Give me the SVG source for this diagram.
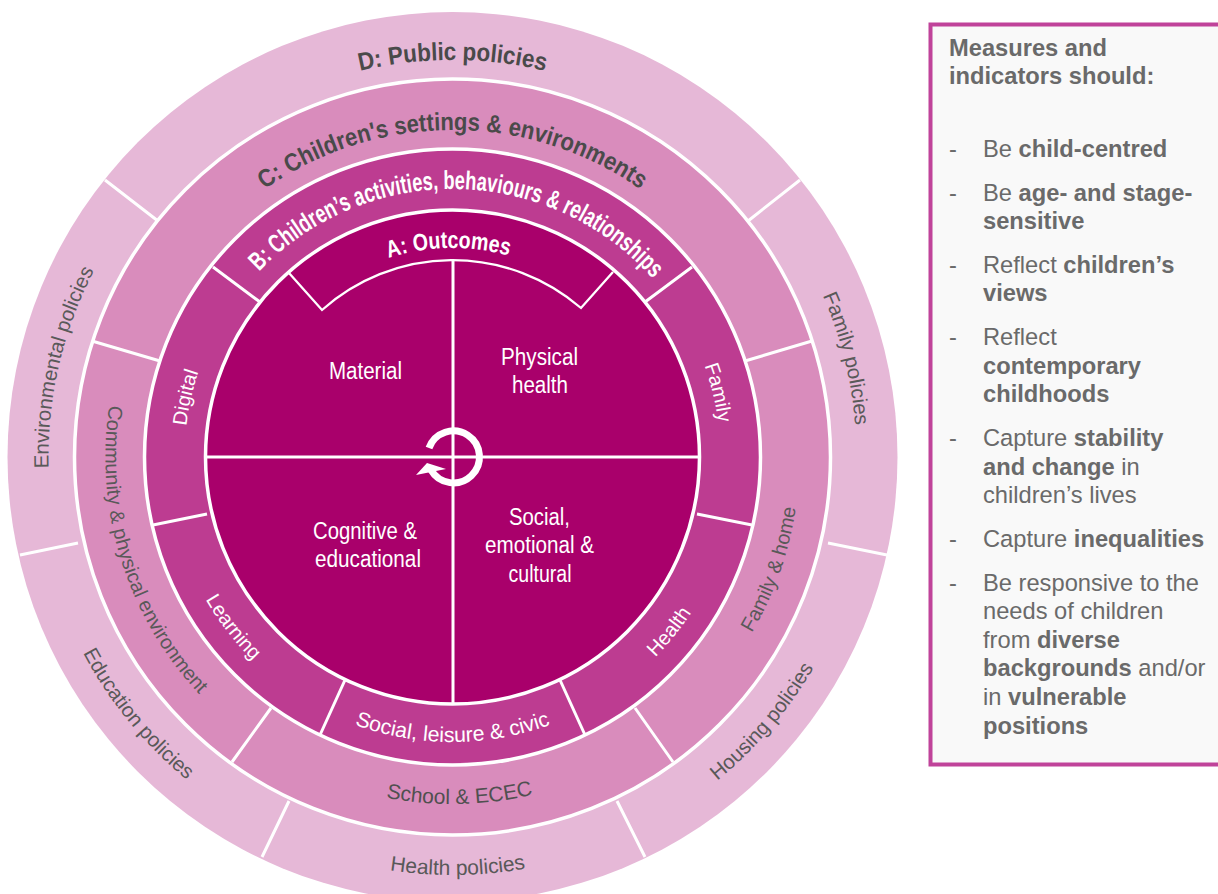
<svg xmlns="http://www.w3.org/2000/svg" width="1218" height="894" viewBox="0 0 1218 894">
<style>
text{font-family:"Liberation Sans",Arial,sans-serif}
.ring{stroke:#fff;stroke-width:3.5}
.div{stroke:#fff;stroke-width:3;fill:none}
.dk{fill:#595959;font-size:20px;text-anchor:middle}
.tt{fill:#4a4a4a;font-size:25px;font-weight:bold;text-anchor:middle}
.wh{fill:#fff;font-size:20px;text-anchor:middle}
.wb{fill:#fff;font-size:23px;text-anchor:middle}
.p{fill:#6a6a6a;font-size:23.7px}
.b{font-weight:bold}
</style>
<defs>
<path id="cw404" d="M452.500 861A404 404 0 1 1 452.500 53A404 404 0 1 1 452.500 861"/>
<path id="cw397" d="M452.500 854A397 397 0 1 1 452.500 60A397 397 0 1 1 452.500 854"/>
<path id="cw327" d="M452.500 784A327 327 0 1 1 452.500 130A327 327 0 1 1 452.500 784"/>
<path id="cw268" d="M452.500 725A268 268 0 1 1 452.500 189A268 268 0 1 1 452.500 725"/>
<path id="cw209" d="M452.500 666A209 209 0 1 1 452.500 248A209 209 0 1 1 452.500 666"/>
<path id="ccw418" d="M452.500 39A418 418 0 1 0 452.500 875A418 418 0 1 0 452.500 39"/>
<path id="ccw347" d="M452.500 110A347 347 0 1 0 452.500 804A347 347 0 1 0 452.500 110"/>
<path id="ccw285" d="M452.500 172A285 285 0 1 0 452.500 742A285 285 0 1 0 452.500 172"/>
</defs>
<rect id="page" width="1218" height="894" fill="#fff"/>

<g id="rings">
<circle cx="452.500" cy="457" r="445" fill="#e6b8d7"/>
<circle class="ring" cx="452.500" cy="457" r="378" fill="#d98cbc"/>
<circle class="ring" cx="452.500" cy="457" r="308" fill="#bd3c91"/>
<circle class="ring" cx="452.500" cy="457" r="247" fill="#a9006b"/>
</g>

<g id="dividers">
<path class="div" d="M105 180L158 221M800 180L748 221M20 555L78 543M887 555L828 543M262 857L289 801M645 857L617 801"/>
<path class="div" d="M92 341L160 361M812 341L745 361M232 762L271 708M673 762L635 708"/>
<path class="div" d="M213 267L260 302M692 267L645 302M153 525L207 514M752 525L697 514M320 735L345 680M585 735L560 680"/>
<path class="div" style="stroke-width:2.300" d="M289 273L322 310A196 196 0 0 1 581 308L613 272"/>
<path class="div" d="M453 261V704M206 457H700"/>
</g>

<g id="cycle-icon">
<path d="M429 448A26 26 0 1 1 431 470" fill="none" stroke="#fff" stroke-width="7"/>
<path d="M416 475L427 463L446 469L431 472Z" fill="#fff"/>
</g>

<g id="D-public-policies"><text class="tt"><textPath href="#cw397" startOffset="50%" textLength="187" lengthAdjust="spacingAndGlyphs">D: Public policies</textPath></text></g>
<g id="C-settings"><text class="tt"><textPath href="#cw327" startOffset="50%" textLength="400" lengthAdjust="spacingAndGlyphs">C: Children's settings &amp; environments</textPath></text></g>
<g id="B-activities"><text class="wb b" style="font-size:26px"><textPath href="#cw268" startOffset="50.300%" textLength="442" lengthAdjust="spacingAndGlyphs">B: Children’s activities, behaviours &amp; relationships</textPath></text></g>
<g id="A-outcomes"><text class="wb b" style="font-size:24px"><textPath href="#cw209" startOffset="49.700%" textLength="122" lengthAdjust="spacingAndGlyphs">A: Outcomes</textPath></text></g>

<g id="family-policies"><text class="dk" style="font-size:20.500px"><textPath href="#cw404" startOffset="71.100%">Family policies</textPath></text></g>
<g id="environmental-policies"><text class="dk" style="font-size:20.500px"><textPath href="#cw404" startOffset="28.600%">Environmental policies</textPath></text></g>
<g id="education-policies"><text class="dk" style="font-size:20.500px"><textPath href="#ccw418" startOffset="35.900%">Education policies</textPath></text></g>
<g id="housing-policies"><text class="dk" style="font-size:20.500px"><textPath href="#ccw418" startOffset="63.750%">Housing policies</textPath></text></g>
<g id="health-policies"><text class="dk" style="font-size:21px"><textPath href="#ccw418" startOffset="50.200%">Health policies</textPath></text></g>

<g id="community-environment"><text class="dk"><textPath href="#ccw347" startOffset="29.800%">Community &amp; physical environment</textPath></text></g>
<g id="family-home"><text class="dk"><textPath href="#ccw347" startOffset="69.600%">Family &amp; home</textPath></text></g>
<g id="school-ecec"><text class="dk" style="font-size:21px;fill:#505050"><textPath href="#ccw347" startOffset="50.330%">School &amp; ECEC</textPath></text></g>

<g id="digital"><text class="wh"><textPath href="#cw268" startOffset="28.500%">Digital</textPath></text></g>
<g id="family"><text class="wh"><textPath href="#cw268" startOffset="71.200%">Family</textPath></text></g>
<g id="learning"><text class="wh"><textPath href="#ccw285" startOffset="35.500%">Learning</textPath></text></g>
<g id="health"><text class="wh"><textPath href="#ccw285" startOffset="64.200%">Health</textPath></text></g>
<g id="social-leisure"><text class="wh" style="font-size:21.300px"><textPath href="#ccw285" startOffset="50%">Social, leisure &amp; civic</textPath></text></g>

<g id="material"><text class="wb" x="365.500" y="379" textLength="73" lengthAdjust="spacingAndGlyphs">Material</text></g>
<g id="physical-health"><text class="wb" x="539.500" y="365" textLength="77" lengthAdjust="spacingAndGlyphs">Physical</text><text class="wb" x="540" y="393" textLength="56" lengthAdjust="spacingAndGlyphs">health</text></g>
<g id="cognitive"><text class="wb" x="365" y="539" textLength="104" lengthAdjust="spacingAndGlyphs">Cognitive &amp;</text><text class="wb" x="368" y="567" textLength="106" lengthAdjust="spacingAndGlyphs">educational</text></g>
<g id="social-emotional"><text class="wb" x="539.500" y="525" textLength="61" lengthAdjust="spacingAndGlyphs">Social,</text><text class="wb" x="539.500" y="553" textLength="109" lengthAdjust="spacingAndGlyphs">emotional &amp;</text><text class="wb" x="540" y="582" textLength="63" lengthAdjust="spacingAndGlyphs">cultural</text></g>

<g id="measures-panel">
<rect x="930.500" y="24.500" width="300" height="740" fill="#f9f9f9" stroke="#c0439a" stroke-width="4"/>
<text class="p b" x="949" y="56">Measures and</text>
<text class="p b" x="949" y="84">indicators should:</text>
<text class="p" x="949" y="157">-</text><text class="p" x="983" y="157">Be <tspan class="b">child-centred</tspan></text>
<text class="p" x="949" y="201">-</text><text class="p" x="983" y="201">Be <tspan class="b">age- and stage-</tspan></text>
<text class="p b" x="983" y="229">sensitive</text>
<text class="p" x="949" y="273">-</text><text class="p" x="983" y="273">Reflect <tspan class="b">children’s</tspan></text>
<text class="p b" x="983" y="301">views</text>
<text class="p" x="949" y="345">-</text><text class="p" x="983" y="345">Reflect</text>
<text class="p b" x="983" y="374">contemporary</text>
<text class="p b" x="983" y="402">childhoods</text>
<text class="p" x="949" y="446">-</text><text class="p" x="983" y="446">Capture <tspan class="b">stability</tspan></text>
<text class="p" x="983" y="475"><tspan class="b">and change</tspan> in</text>
<text class="p" x="983" y="503">children’s lives</text>
<text class="p" x="949" y="547">-</text><text class="p" x="983" y="547">Capture <tspan class="b">inequalities</tspan></text>
<text class="p" x="949" y="591">-</text><text class="p" x="983" y="591">Be responsive to the</text>
<text class="p" x="983" y="619">needs of children</text>
<text class="p" x="983" y="648">from <tspan class="b">diverse</tspan></text>
<text class="p" x="983" y="676"><tspan class="b">backgrounds</tspan> and/or</text>
<text class="p" x="983" y="705">in <tspan class="b">vulnerable</tspan></text>
<text class="p b" x="983" y="734">positions</text>
</g>
</svg>
